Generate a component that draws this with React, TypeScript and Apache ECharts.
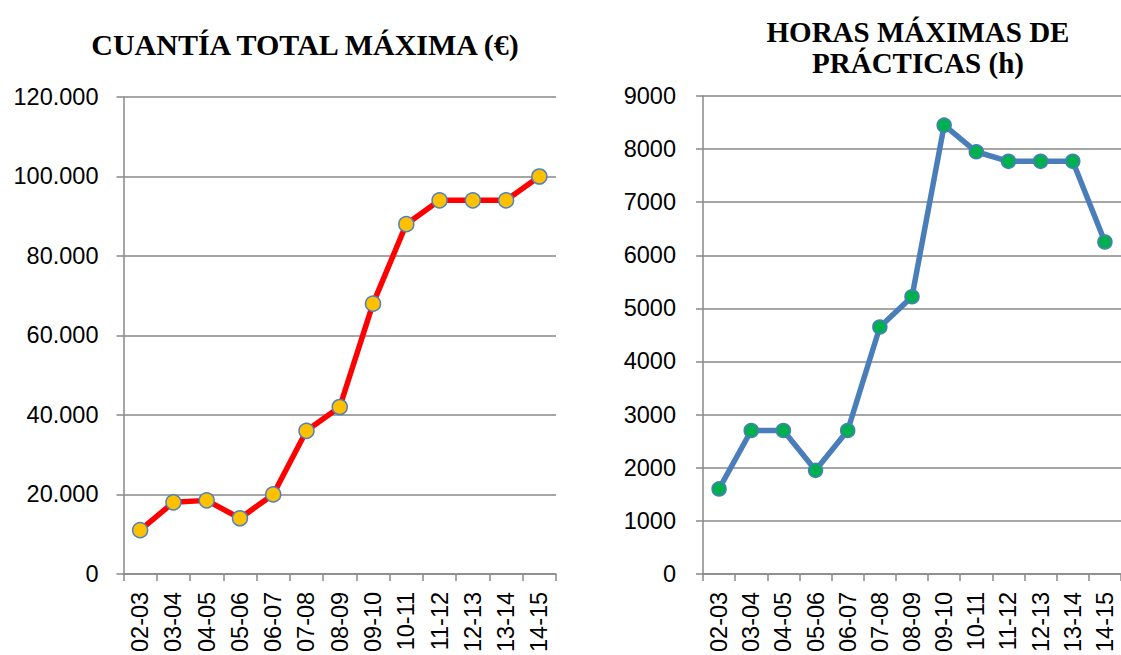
import React, { useEffect, useRef } from "react";
import * as echarts from "echarts";

const categories = ["02-03", "03-04", "04-05", "05-06", "06-07", "07-08", "08-09", "09-10", "10-11", "11-12", "12-13", "13-14", "14-15"];
const cuantiaValues = [11000, 18000, 18500, 14000, 20000, 36000, 42000, 68000, 88000, 94000, 94000, 94000, 100000];
const horasValues = [1600, 2700, 2700, 1950, 2700, 4650, 5220, 8450, 7950, 7770, 7770, 7770, 6250];
const leftTitle = "CUANTÍA TOTAL MÁXIMA (€)";
const rightTitleLines = ["HORAS MÁXIMAS DE", "PRÁCTICAS (h)"];

const GRID_COLOR = "#898989";
const LABEL_FONT = "Liberation Sans";

function fmtThousands(v: number): string {
  if (v === 0) return "0";
  const s = String(Math.round(v));
  return s.replace(/\B(?=(\d{3})+(?!\d))/g, ".");
}

export default function App() {
  const ref = useRef<HTMLDivElement>(null);
  useEffect(() => {
    document.body.style.margin = "0";
    if (!ref.current) return;
    const chart = echarts.init(ref.current, null, { renderer: "svg" });
    const axisLabel = { color: "#000", fontFamily: LABEL_FONT, fontSize: 23.5 };
    const xAxisCommon = (gridIndex: number) => ({
      type: "category" as const,
      gridIndex,
      data: categories,
      boundaryGap: true,
      axisLine: { lineStyle: { color: GRID_COLOR, width: 1.5 } },
      axisTick: { show: true, length: 7, alignWithLabel: false, lineStyle: { color: GRID_COLOR, width: 1.5 } },
      axisLabel: { ...axisLabel, rotate: 90, margin: 18, interval: 0 },
      splitLine: { show: false },
    });
    const yAxisCommon = (gridIndex: number) => ({
      type: "value" as const,
      gridIndex,
      axisLine: { show: true, lineStyle: { color: GRID_COLOR, width: 1.5 } },
      axisTick: { show: true, length: 7, lineStyle: { color: GRID_COLOR, width: 1.5 } },
      splitLine: { show: true, lineStyle: { color: GRID_COLOR, width: 1.5 } },
    });
    chart.setOption({
      animation: false,
      backgroundColor: "#fff",
      grid: [
        { left: 123.5, top: 97, width: 432.5, height: 479, containLabel: false },
        { left: 703, top: 96, width: 426, height: 481.5, containLabel: false },
      ],
      xAxis: [xAxisCommon(0), xAxisCommon(1)],
      yAxis: [
        {
          ...yAxisCommon(0),
          min: 0,
          max: 120000,
          interval: 20000,
          axisLabel: { ...axisLabel, margin: 25, formatter: (v: number) => fmtThousands(v) },
        },
        {
          ...yAxisCommon(1),
          min: 0,
          max: 9000,
          interval: 1000,
          axisLabel: { ...axisLabel, margin: 27, formatter: (v: number) => String(v) },
        },
      ],
      series: [
        {
          type: "line",
          xAxisIndex: 0,
          yAxisIndex: 0,
          data: cuantiaValues,
          lineStyle: { color: "#FF0000", width: 5.5 },
          symbol: "circle",
          symbolSize: 15,
          itemStyle: { color: "#FFC000", borderColor: "#4F81BD", borderWidth: 1.5 },
        },
        {
          type: "line",
          xAxisIndex: 1,
          yAxisIndex: 1,
          data: horasValues,
          lineStyle: { color: "#4A7EBB", width: 5.5 },
          symbol: "circle",
          symbolSize: 14,
          itemStyle: { color: "#00B050", borderColor: "#4A7EBB", borderWidth: 1.5 },
        },
      ],
      graphic: [
        {
          type: "text",
          x: 305,
          y: 44,
          style: { text: leftTitle, font: "bold 30px 'Liberation Serif'", fill: "#000", textAlign: "center", textVerticalAlign: "middle" },
        },
        {
          type: "text",
          x: 918,
          y: 32,
          style: { text: rightTitleLines[0], font: "bold 29px 'Liberation Serif'", fill: "#000", textAlign: "center", textVerticalAlign: "middle" },
        },
        {
          type: "text",
          x: 918,
          y: 63,
          style: { text: rightTitleLines[1], font: "bold 29px 'Liberation Serif'", fill: "#000", textAlign: "center", textVerticalAlign: "middle" },
        },
      ],
    });
    return () => chart.dispose();
  }, []);
  return <div ref={ref} style={{ width: 1121, height: 655 }} />;
}
